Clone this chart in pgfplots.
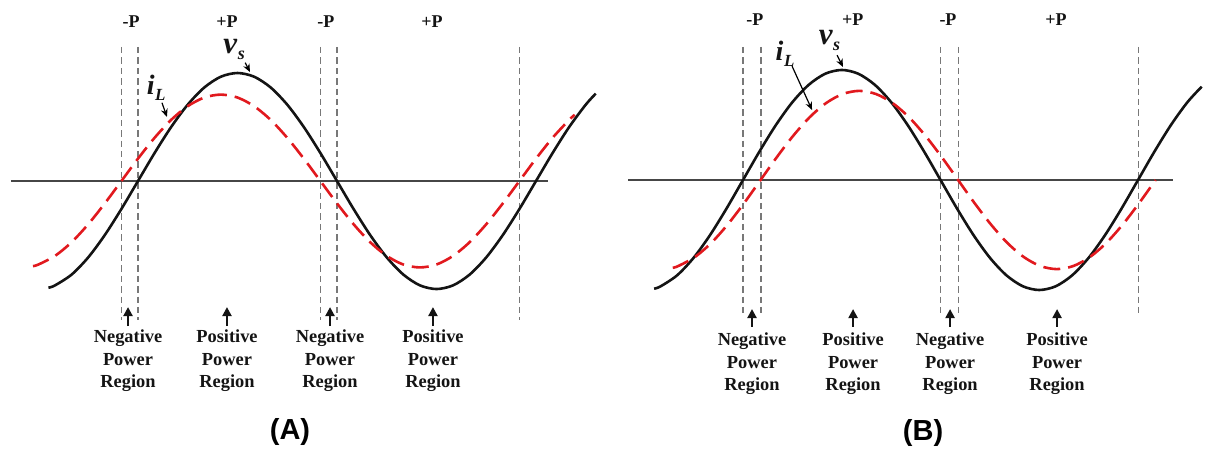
\documentclass[border=0pt]{standalone}
\usepackage{pgfplots}
\pgfplotsset{compat=1.18}
\usepackage{fontspec}
\setmainfont{Liberation Serif}
\newfontfamily\captionfont{Liberation Sans}
\usetikzlibrary{arrows.meta}

\definecolor{vcol}{RGB}{20,20,20}
\definecolor{icol}{RGB}{225,25,30}
\definecolor{zerocol}{RGB}{70,70,70}
\definecolor{gridcol}{RGB}{120,120,120}
\definecolor{txtcol}{RGB}{20,20,20}

\pgfplotsset{
  wave/.style={hide axis, scale only axis, width=303pt, height=224.5pt,
    clip=false, anchor=south west},
  vs/.style={vcol, line width=1.3pt, smooth, no marks},
  iL/.style={icol, line width=1.3pt, smooth, no marks, dash pattern=on 8.5pt off 4pt},
  zero/.style={zerocol, line width=1pt, no marks},
  bound/.style={gridcol, line width=0.55pt, no marks, dash pattern=on 3.2pt off 2pt},
}
\tikzset{
  plabel/.style={font=\fontsize{9}{9}\selectfont\bfseries, text=txtcol, inner sep=0pt},
  rlabel/.style={font=\fontsize{9.2}{11.25}\selectfont\bfseries, text=txtcol, align=center, inner sep=0pt},
  rarrow/.style={-{Triangle[length=4.5pt,width=4.5pt]}, line width=1.1pt, txtcol},
  carrow/.style={-{Stealth[length=4pt,width=3.4pt]}, line width=0.6pt, black},
  panel/.style={font=\captionfont\fontsize{14.5}{14.5}\selectfont\bfseries, inner sep=0pt},
  cname/.style={inner sep=0pt, text=txtcol},
}
\newcommand{\iLtext}{{\fontsize{14}{14}\selectfont\bfseries\itshape i}\kern0.3pt\raisebox{-3pt}{\fontsize{8.5}{8.5}\selectfont\bfseries\itshape L}}
\newcommand{\vstext}{{\fontsize{15.5}{15.5}\selectfont\bfseries\itshape v}\kern0.3pt\raisebox{-3pt}{\fontsize{9}{9}\selectfont\bfseries\itshape s}}
\newcommand{\negregion}{Negative\\Power\\Region}
\newcommand{\posregion}{Positive\\Power\\Region}

\begin{document}
\begin{tikzpicture}
% page frame: two panels side by side
\useasboundingbox (0pt,0pt) rectangle (606pt,224.5pt);

% ---------------- (A): current leads the voltage ----------------
\begin{axis}[wave, at={(0pt,0pt)},
  xmin=-124.8, xmax=423.3, ymin=-2.481, ymax=1.676]
  % zero line
  \addplot[zero] coordinates {(-114.9,0) (370.8,0)};
  % region boundaries
  \addplot[bound] coordinates {(-15,1.241) (-15,-1.287)};
  \addplot[bound] coordinates {(0,1.241) (0,-1.287)};
  \addplot[bound] coordinates {(165,1.241) (165,-1.287)};
  \addplot[bound] coordinates {(180,1.241) (180,-1.287)};
  \addplot[bound] coordinates {(345,1.241) (345,-1.287)};
  % source voltage v_s
  \addplot[vs] coordinates {
    (-81,-0.988) (-75,-0.966) (-60,-0.866) (-45,-0.707) (-30,-0.5) (-15,-0.259)
    (0,0) (15,0.259) (30,0.5) (45,0.707) (60,0.866) (75,0.966) (90,1)
    (105,0.966) (120,0.866) (135,0.707) (150,0.5) (165,0.259) (180,0)
    (195,-0.259) (210,-0.5) (225,-0.707) (240,-0.866) (255,-0.966) (270,-1)
    (285,-0.966) (300,-0.866) (315,-0.707) (330,-0.5) (345,-0.259) (360,0)
    (375,0.259) (390,0.5) (405,0.707) (414,0.809)};
  % load current i_L
  \addplot[iL] coordinates {
    (-95,-0.788) (-90,-0.773) (-75,-0.693) (-60,-0.566) (-45,-0.4) (-30,-0.207)
    (-15,0) (0,0.207) (15,0.4) (30,0.566) (45,0.693) (60,0.773) (75,0.8)
    (90,0.773) (105,0.693) (120,0.566) (135,0.4) (150,0.207) (165,0)
    (180,-0.207) (195,-0.4) (210,-0.566) (225,-0.693) (240,-0.773) (255,-0.8)
    (270,-0.773) (285,-0.693) (300,-0.566) (315,-0.4) (330,-0.207) (345,0)
    (360,0.207) (375,0.4) (390,0.566) (395,0.613)};
  % power sign above each region
  \node[plabel] at (axis cs:-6.3,1.48) {-P};
  \node[plabel] at (axis cs:80.5,1.48) {+P};
  \node[plabel] at (axis cs:170,1.48) {-P};
  \node[plabel] at (axis cs:266,1.48) {+P};
  % curve names
  \node[cname] at (axis cs:16.5,0.86) {\iLtext};
  \draw[carrow] (axis cs:21.7,0.725) -- (axis cs:26.2,0.593);
  \node[cname] at (axis cs:87,1.215) {\vstext};
  \draw[carrow] (axis cs:97,1.095) -- (axis cs:101.3,1.009);
  % region captions
  \draw[rarrow] (axis cs:-9,-1.343) -- (axis cs:-9,-1.167);
  \draw[rarrow] (axis cs:80.5,-1.343) -- (axis cs:80.5,-1.167);
  \draw[rarrow] (axis cs:173.7,-1.343) -- (axis cs:173.7,-1.167);
  \draw[rarrow] (axis cs:266.8,-1.343) -- (axis cs:266.8,-1.167);
  \node[rlabel] at (axis cs:-9,-1.667) {\negregion};
  \node[rlabel] at (axis cs:80.5,-1.667) {\posregion};
  \node[rlabel] at (axis cs:173.7,-1.667) {\negregion};
  \node[rlabel] at (axis cs:266.8,-1.667) {\posregion};
  \node[panel] at (axis cs:137.5,-2.324) {(A)};
\end{axis}

% ---------------- (B): current lags the voltage ----------------
\begin{axis}[wave, at={(303pt,0pt)},
  xmin=-124.86, xmax=427.4, ymin=-2.445, ymax=1.636]
  \addplot[zero] coordinates {(-104.8,0) (391.9,0)};
  \addplot[bound] coordinates {(0,1.209) (0,-1.245)};
  \addplot[bound] coordinates {(16.4,1.209) (16.4,-1.245)};
  \addplot[bound] coordinates {(180,1.209) (180,-1.245)};
  \addplot[bound] coordinates {(196.4,1.209) (196.4,-1.245)};
  \addplot[bound] coordinates {(360,1.209) (360,-1.245)};
  \addplot[vs] coordinates {
    (-81,-0.988) (-75,-0.966) (-60,-0.866) (-45,-0.707) (-30,-0.5) (-15,-0.259)
    (0,0) (15,0.259) (30,0.5) (45,0.707) (60,0.866) (75,0.966) (90,1)
    (105,0.966) (120,0.866) (135,0.707) (150,0.5) (165,0.259) (180,0)
    (195,-0.259) (210,-0.5) (225,-0.707) (240,-0.866) (255,-0.966) (270,-1)
    (285,-0.966) (300,-0.866) (315,-0.707) (330,-0.5) (345,-0.259) (360,0)
    (375,0.259) (390,0.5) (405,0.707) (418,0.848)};
  \addplot[iL] coordinates {
    (-64,-0.798) (-59,-0.782) (-44,-0.701) (-29,-0.573) (-14,-0.405) (1,-0.210)
    (16,0) (31,0.210) (46,0.405) (61,0.573) (76,0.701) (91,0.782) (106,0.81)
    (121,0.782) (136,0.701) (151,0.573) (166,0.405) (181,0.210) (196,0)
    (211,-0.210) (226,-0.405) (241,-0.573) (256,-0.701) (271,-0.782) (286,-0.81)
    (301,-0.782) (316,-0.701) (331,-0.573) (346,-0.405) (361,-0.210) (376,0)};
  \node[plabel] at (axis cs:10.9,1.455) {-P};
  \node[plabel] at (axis cs:100,1.455) {+P};
  \node[plabel] at (axis cs:186.8,1.455) {-P};
  \node[plabel] at (axis cs:285.3,1.455) {+P};
  \node[cname] at (axis cs:38.3,1.15) {\iLtext};
  \draw[carrow] (axis cs:44.7,1.035) -- (axis cs:62.9,0.636);
  \node[cname] at (axis cs:78.8,1.27) {\vstext};
  \draw[carrow] (axis cs:85.7,1.135) -- (axis cs:91.1,1.027);
  \draw[rarrow] (axis cs:8.2,-1.336) -- (axis cs:8.2,-1.173);
  \draw[rarrow] (axis cs:100.3,-1.336) -- (axis cs:100.3,-1.173);
  \draw[rarrow] (axis cs:188.7,-1.336) -- (axis cs:188.7,-1.173);
  \draw[rarrow] (axis cs:286.2,-1.336) -- (axis cs:286.2,-1.173);
  \node[rlabel] at (axis cs:8.2,-1.673) {\negregion};
  \node[rlabel] at (axis cs:100.3,-1.673) {\posregion};
  \node[rlabel] at (axis cs:188.7,-1.673) {\negregion};
  \node[rlabel] at (axis cs:286.2,-1.673) {\posregion};
  \node[panel] at (axis cs:164.1,-2.3) {(B)};
\end{axis}

\end{tikzpicture}
\end{document}
